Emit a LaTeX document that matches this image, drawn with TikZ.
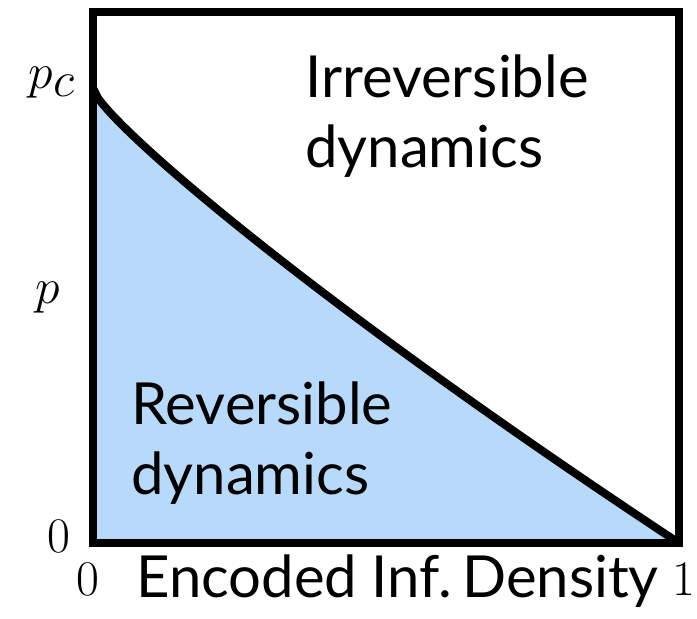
\documentclass[tikz,border=0pt]{standalone}
\usepackage{fontspec}
\setsansfont{Lato}
\definecolor{revblue}{RGB}{184,218,250}
\begin{document}
\begin{tikzpicture}[x=0.5pt,y=-0.5pt,
  frame/.style={line width=4pt,line join=miter},
  boundary/.style={line width=4pt},
  region/.style={font=\sffamily\fontsize{29}{35}\selectfont,inner sep=0pt,anchor=base west},
  axislabel/.style={font=\sffamily\fontsize{29}{35}\selectfont,inner sep=0pt,anchor=base west},
  tick/.style={font=\fontsize{34}{40}\selectfont,inner sep=0pt,anchor=base}]
\useasboundingbox (0,0) rectangle (697,619);
\coordinate (TL) at (93,12);
\coordinate (TR) at (679,12);
\coordinate (BL) at (93,543);
\coordinate (BR) at (679,543);
\coordinate (PC) at (93,88);
\fill[revblue] (PC) -- (BL) -- (BR) -- plot[domain=1:0,samples=120,variable=\u] ({93+586*\u},{543-455*(1-\u)*(1-0.15*sqrt(\u))}) -- cycle;
\draw[frame] (TL) rectangle (BR);
\draw[boundary] plot[domain=0:1,samples=120,variable=\u] ({93+586*\u},{543-455*(1-\u)*(1-0.15*sqrt(\u))});
\node[region] (irr1) at (305,98) {Irreversible};
\node[region] (irr2) at (305,168) {dynamics};
\node[region] (rev1) at (131,425) {Reversible};
\node[region] (rev2) at (131,495) {dynamics};
\node[axislabel] (xlab) at (136,598) {Encoded Inf.\kern-2.5pt\ Density};
\node[tick] (pc) at (52,89) {$p_c$};
\node[tick] (p) at (48,304) {$p$};
\node[tick] (y0) at (59,553) {$0$};
\node[tick] (x0) at (88,596) {$0$};
\node[tick] (x1) at (684,596) {$1$};
\end{tikzpicture}
\end{document}
